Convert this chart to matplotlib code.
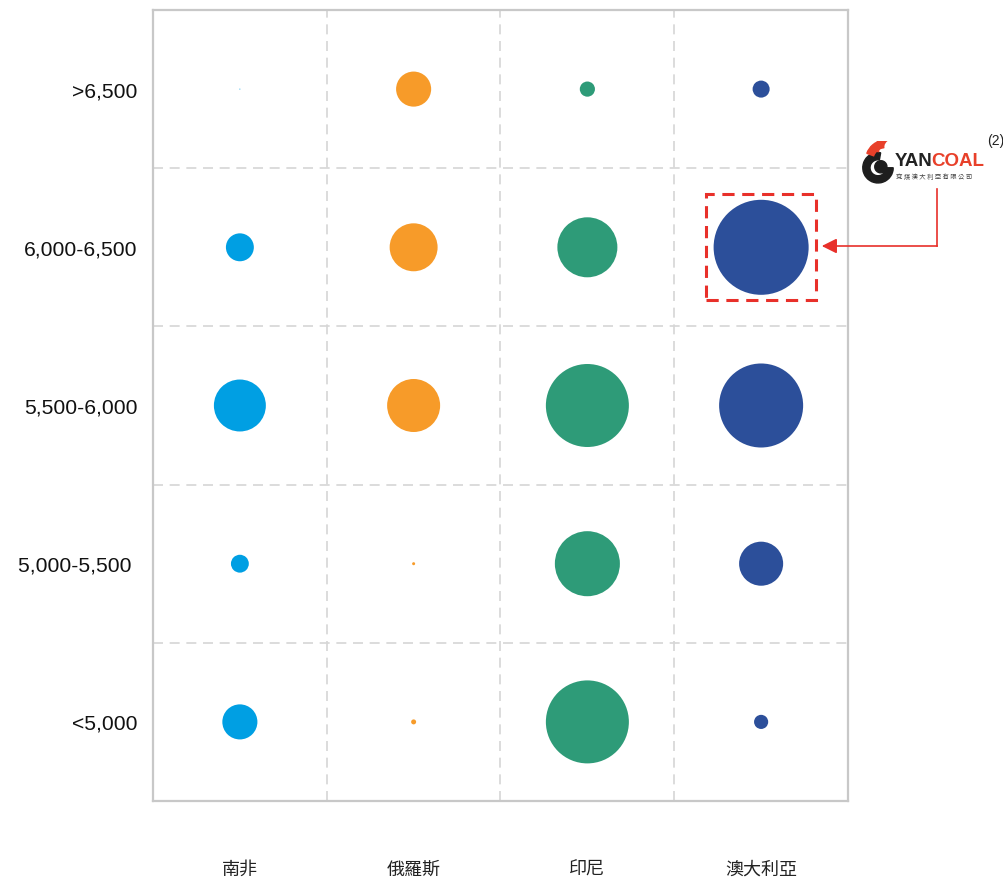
import matplotlib.pyplot as plt
from matplotlib.patches import Rectangle, Wedge
import numpy as np

plt.rcParams['font.family'] = ['Liberation Sans', 'DejaVu Sans']

# calorific value bands, top to bottom
bands = ['>6,500', '6,000-6,500', '5,500-6,000', '5,000-5,500 ', '<5,000']
countries = ['南非', '俄羅斯', '印尼', '澳大利亞']
colors = ['#009FE3', '#F79B29', '#2E9B78', '#2C4F9A']

# bubble volumes per country, same order as bands
south_africa = [0.01, 7.8, 27.0, 3.2, 12.3]
russia = [12.3, 23.0, 28.1, 0.09, 0.25]
indonesia = [2.3, 36.0, 68.9, 42.3, 68.9]
australia = [2.9, 90.3, 70.6, 19.4, 2.0]
volumes = [south_africa, russia, indonesia, australia]

W, H = 1004, 879
fig = plt.figure(figsize=(W / 100, H / 100), dpi=100)
ax = fig.add_axes([153 / W, 1 - 802 / H, 695 / W, 791 / H])
ax.set_xlim(0, 4)
ax.set_ylim(0, 5)

nb = len(bands)
for i, vals in enumerate(volumes):
    x = np.full(nb, i + 0.5)
    y = nb - 0.5 - np.arange(nb)
    # marker area in pt^2: diameter(px) = 10*sqrt(v), 0.72 pt per px
    s = (np.sqrt(vals) * 10 * 0.72) ** 2
    ax.scatter(x, y, s=s, color=colors[i], edgecolors='none', zorder=3)

for k in range(1, 4):
    ax.axvline(k, color='#D6D6D6', lw=1.2, ls=(0, (6, 4)), zorder=1)
for k in range(1, 5):
    ax.axhline(k, color='#D6D6D6', lw=1.2, ls=(0, (6, 4)), zorder=1)

for sp in ax.spines.values():
    sp.set_color('#C8C8C8')
    sp.set_linewidth(1.6)

ax.set_xticks([])
ax.set_yticks([])
for j, b in enumerate(bands):
    ax.text(-0.09, nb - 0.5 - j - 0.01, b, ha='right', va='center',
            fontsize=15.2, color='#111111')
for i, c in enumerate(countries):
    ax.text(i + 0.5, -0.43, c, ha='center', va='center', fontsize=13,
            family=['Noto Sans CJK TC', 'DejaVu Sans'], color='#222222')

# highlight box around Australia 6,000-6,500
ax.add_patch(Rectangle((3.183, 3.167), 0.633, 0.67, fill=False,
                       ec='#E8302A', lw=2.2, ls=(0, (4, 2.5)), zorder=4,
                       clip_on=False))

def fx(px):
    return px / W

def fy(py):
    return 1 - py / H

fig.add_artist(plt.Line2D([fx(937), fx(937)], [fy(190), fy(247)],
                          color='#E8302A', lw=1.2))
fig.add_artist(plt.Line2D([fx(833), fx(937)], [fy(247), fy(247)],
                          color='#E8302A', lw=1.2))
ax.annotate('', xy=(fx(819), fy(247)), xycoords='figure fraction',
            xytext=(fx(836), fy(247)), textcoords='figure fraction',
            arrowprops=dict(arrowstyle='-|>,head_length=0.9,head_width=0.45',
                            color='#E8302A', lw=1.2))

# Yancoal mark
fig.text(fx(895), fy(162), 'YAN', fontsize=13.5, fontweight='bold',
         color='#222222', va='center', ha='left')
fig.text(fx(931), fy(162), 'COAL', fontsize=13.5, fontweight='bold',
         color='#E8402A', va='center', ha='left')
fig.text(fx(896), fy(177), '兗 煤 澳 大 利 亞 有 限 公 司', fontsize=4.6,
         color='#444444', va='center', ha='left',
         family=['Noto Sans CJK TC', 'DejaVu Sans'])
fig.text(fx(987), fy(141), '(2)', fontsize=10, color='#222222',
         va='center', ha='left')
lax = fig.add_axes([fx(859), fy(186), 38 / W, 44 / H])
lax.set_xlim(-1, 1)
lax.set_ylim(-1.15, 1.15)
lax.set_aspect('equal')
lax.axis('off')
lax.add_patch(Wedge((0, -0.25), 0.8, 80, 360, width=0.38, color='#1E1E1E'))
lax.add_patch(Wedge((0.15, -0.2), 0.32, 0, 360, color='#1E1E1E'))
lax.add_patch(Wedge((0.4, 0.15), 1.05, 100, 160, width=0.38, color='#E8402A'))
lax.add_patch(Wedge((0.6, 0.55), 0.85, 115, 175, width=0.28, color='#E8402A'))
lax.add_patch(Wedge((0.7, 0.85), 0.6, 125, 185, width=0.2, color='#E8402A'))

fig.savefig('out.png', dpi=100, facecolor='white')
